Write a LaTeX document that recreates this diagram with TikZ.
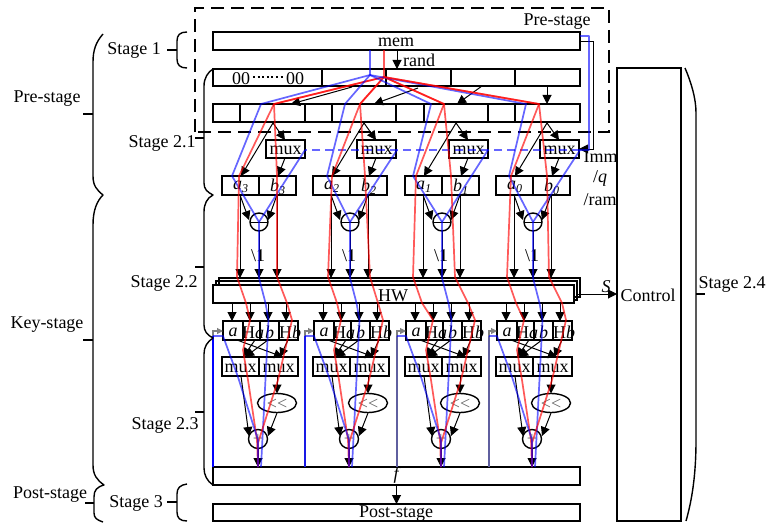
\documentclass[tikz,border=0pt]{standalone}
\usepackage{fontspec}
\setmainfont{Liberation Serif}
\usetikzlibrary{arrows.meta,calc,shapes.geometric}
\newcommand\mybox[6][]{%
  \node[boxn,#1,minimum width={(#4)-(#2)},minimum height={(#5)-(#3)},label={[lbl]center:#6}]
    (\curname) at ({((#2)+(#4))/2},{((#3)+(#5))/2}) {};}
\newcommand\curname{}
\newcommand\nbox[6]{\renewcommand\curname{#1}\mybox{#2}{#3}{#4}{#5}{#6}}
\newcommand\subi[2]{\textit{#1}\raisebox{-3.5pt}{\fontsize{12}{12}\selectfont\textit{#2}}}
\tikzset{
  x=1pt,y=-1pt,
  every node/.style={font=\fontsize{18}{20}\selectfont,inner sep=0pt,outer sep=0pt},
  boxn/.style={draw,line width=1.4pt,rectangle,inner sep=0pt,outer sep=0pt},
  lbl/.style={inner sep=0pt,outer sep=0pt,font=\fontsize{18}{20}\selectfont,yshift=-1.5pt},
  wire/.style={line width=1pt,-{Triangle[length=9pt,width=9pt]}},
  gwire/.style={line width=1.1pt,color=gray,-{Triangle[length=6pt,width=6pt]}},
  brc/.style={line width=1.4pt,line join=round},
  rd/.style={color=red,opacity=.65,line width=1.7pt,line join=round},
  bl/.style={color=blue,opacity=.6,line width=1.7pt,line join=round},
  txt/.style={font=\fontsize{18}{20}\selectfont,yshift=-1.5pt},
}
\begin{document}
\begin{tikzpicture}
\useasboundingbox (0,0) rectangle (767,524);
% pre-stage dashed frame
\draw[line width=1.4pt,dash pattern=on 13pt off 7pt] (195,132) -- (195,8) -- (609,8) -- (609,132) -- cycle;
\node[txt] (prelbl) at (557,20) {Pre-stage};
% memory
\nbox{mem}{213}{32}{580}{50}{}
\node[txt] (memlbl) at (396,41) {mem};
% row 2
\nbox{rA}{213}{69}{322}{86}{}
\nbox{rB}{322}{69}{386}{86}{}
\nbox{rC}{386}{69}{451}{86}{}
\nbox{rD}{451}{69}{515}{86}{}
\nbox{rE}{515}{69}{580}{86}{}
\node[txt] (zl) at (241,77) {00};
\node[txt] (zr) at (295,77) {00};
\coordinate (zla) at (253,77);
\coordinate (zrb) at (285,77);
\draw[line width=2pt,dash pattern=on 2pt off 2.6pt] (zla) -- (zrb);
% row 3
\nbox{sA}{213}{104}{240}{122}{}
\nbox{sB}{240}{104}{305}{122}{}
\nbox{sC}{305}{104}{332}{122}{}
\nbox{sD}{332}{104}{396}{122}{}
\nbox{sE}{396}{104}{424}{122}{}
\nbox{sF}{424}{104}{488}{122}{}
\nbox{sG}{488}{104}{515}{122}{}
\nbox{sH}{515}{104}{580}{122}{}
% rand
\coordinate (randS) at (397,50);
\coordinate (randE) at (397,69);
\draw[wire] (randS) -- (randE);
\node[txt] (randl) at (419,59) {rand};
% row2 -> row3 arrows
\coordinate (p1a) at (352,87); \coordinate (p1b) at (291,104);
\coordinate (p2a) at (418,88); \coordinate (p2b) at (374,104);
\coordinate (p3a) at (482,86); \coordinate (p3b) at (457,104);
\coordinate (p4a) at (547,86); \coordinate (p4b) at (547,104);
\draw[wire] (p1a) -- (p1b);
\draw[wire] (p2a) -- (p2b);
\draw[wire] (p3a) -- (p3b);
\draw[wire] (p4a) -- (p4b);
% HW stack
\nbox{hwC}{219}{278}{580}{297}{}
\nbox{hwB}{216}{281}{577}{300}{}
\node[boxn,fill=white,minimum width=361,minimum height=18] (hwA) at (393.5,294) {};
\node[txt] (hwl) at (393,294) {HW};
% f and post
\nbox{fbox}{213}{467}{580}{485}{}
\node[txt,font=\fontsize{18}{20}\selectfont\itshape] (fl) at (396,474) {f};
\nbox{post}{213}{504}{580}{521}{}
\node[txt] (postl) at (396,512) {Post-stage};
\draw[wire] (fbox.south) -- (post.north);
% control
\nbox{ctrl}{617}{68}{681}{521}{}
\node[txt] (ctrll) at (648,294) {Control};
\coordinate (sS) at (578,294);
\draw[wire] (sS) -- (ctrl.west |- sS);
\node[txt,font=\fontsize{18}{20}\selectfont\itshape] (sl) at (606,285) {S};
% groups
\foreach \i/\dx/\na in {1/0/3,2/91/2,3/183/1,4/274/0}{
\begin{scope}[xshift=\dx pt]
  \nbox{ux\i}{266}{140}{305}{158}{mux}
  \coordinate (ap\i) at (273,123);
  \coordinate (apL\i) at (241,176);
  \coordinate (mxT\i) at (285,140);
  \coordinate (mxB\i) at (285,158);
  \coordinate (bT\i) at (278,176);
  \draw[wire] (ap\i) -- (apL\i);
  \draw[wire] (ap\i) -- (mxT\i);
  \draw[wire] (mxB\i) -- (bT\i);
  \nbox{a\i}{222}{176}{259}{195}{\subi{a}{\na}}
  \nbox{b\i}{259}{176}{296}{195}{\subi{b}{\na}}
  \node[draw,circle,line width=1.4pt,minimum size=18pt] (cc\i) at (259,222) {};
  \draw[line width=1pt] (cc\i.west) -- (cc\i.east);
  \coordinate (aB\i) at (240,195);
  \coordinate (bB\i) at (277,195);
  \coordinate (ccL\i) at (249,220);
  \coordinate (ccR\i) at (268,220);
  \coordinate (hA\i) at (240,278);
  \coordinate (hB\i) at (259,278);
  \coordinate (hC\i) at (277,278);
  \draw[wire] (aB\i) -- (ccL\i);
  \draw[wire] (bB\i) -- (ccR\i);
  \draw[wire] (aB\i) -- (hA\i);
  \draw[wire] (cc\i.south) -- (hB\i);
  \draw[wire] (bB\i) -- (hC\i);
  \node[txt] (sh\i) at (258,254) {\textbackslash 1};
  % lower
  \nbox{la\i}{223}{321}{243}{340}{\textit{a}}
  \nbox{lha\i}{243}{321}{260}{340}{}
  \nbox{lb\i}{260}{321}{279}{340}{\textit{b}}
  \nbox{lhb\i}{279}{321}{298}{340}{}
  \node[txt] (lhat\i) at (253,331) {H\textit{a}};
  \node[txt] (lhbt\i) at (290,331) {H\textit{b}};
  \foreach \k/\xx in {1/232,2/250,3/268,4/286}{
    \coordinate (ht\i\k) at (\xx,303);
    \coordinate (hb\i\k) at (\xx,321);
    \draw[wire] (ht\i\k) -- (hb\i\k);
  }
  \nbox{m\i}{222}{357}{259}{376}{mux}
  \nbox{n\i}{259}{357}{298}{376}{mux}
  \coordinate (la1\i) at (237,340); \coordinate (la2\i) at (283,357);
  \coordinate (lb1\i) at (255,340); \coordinate (lb2\i) at (243,357);
  \coordinate (lc1\i) at (268,340); \coordinate (lc2\i) at (245,357);
  \coordinate (ld1\i) at (288,340); \coordinate (ld2\i) at (280,357);
  \draw[wire] (la1\i) -- (la2\i);
  \draw[wire] (lb1\i) -- (lb2\i);
  \draw[wire] (lc1\i) -- (lc2\i);
  \draw[wire] (ld1\i) -- (ld2\i);
  \node[draw,ellipse,line width=1.4pt,minimum width=39pt,minimum height=19pt] (el\i) at (277,403) {};
  \node[txt,color=black!60] (ell\i) at (277,403) {\textless{}\kern0pt\textless{}};
  \node[draw,circle,line width=1.4pt,minimum size=19pt] (pl\i) at (258,439) {};
  \node[color=black!55] (pll\i) at (258,439) {+};
  \coordinate (mL\i) at (241,376);
  \coordinate (pL\i) at (249,436);
  \coordinate (nB\i) at (277,376);
  \coordinate (elB\i) at (277,413);
  \coordinate (pR\i) at (268,436);
  \coordinate (fT\i) at (258,467);
  \draw[wire] (mL\i) -- (pL\i);
  \draw[wire] (nB\i) -- (el\i.north);
  \draw[wire] (elB\i) -- (pR\i);
  \draw[wire] (pl\i.south) -- (fT\i);
\end{scope}
}
% imm feed
\coordinate (mR1) at (580,41.5);
\coordinate (mR2) at (593,41.5);
\coordinate (mR3) at (593,149);
\draw[line width=1pt,-{Triangle[length=9pt,width=9pt]}] (mR1) -- (mR2) -- (mR3) -- (ux4.east |- mR3);
\node[txt] (imm) at (600.5,155) {Imm};
\node[txt] (ql) at (600,177) {/\textit{q}};
\node[txt] (raml) at (600,198) {/ram};
% coloured: stems and fan
\coordinate (bS) at (370,50); \coordinate (bF) at (370,75);
\coordinate (rS) at (384,50); \coordinate (rF) at (384,77);
\draw[bl] (bS) -- (bF);
\draw[rd] (rS) -- (rF);
\coordinate (bmA) at (580,36); \coordinate (bmB) at (589,36); \coordinate (bmC) at (589,150);
\coordinate (dashE) at (580,150); \coordinate (dashW) at (305,150);
\draw[bl] (bmA) -- (bmB) -- (bmC) -- (dashE);
\draw[bl,dash pattern=on 8pt off 5pt] (dashE) -- (dashW);
% per-group coloured
\foreach \i/\dx/\bt/\rt/\bb/\rl/\rll/\rrt/\rrb/\rrh/\mr/\fb/\vo in
 {1/0/261/274/232/239/237/277/277/287/305/213/1,
  2/91/345/360/327/332/328/365/370/378/397/305/.8,
  3/183/431/444/413/416/413/451/455/468/488/397/.25,
  4/274/526/539/509/511/507/547/549/562/580/489/.25}{
  \draw[bl] (bF) -- (\bt,104) -- (\bb,176) -- (cc\i.center) -- (hB\i) -- ++(6.5,25) -- ++(3,17) -- ++(-1,20) -- (261+\dx,467);
  \draw[bl] (\mr,150) -- (cc\i.center);
  \draw[rd] (rF) -- (\rt,104) -- (\rl,176) -- (\rll,277) -- (\rll+9,303) -- (250+\dx,320) -- (243+\dx,350) -- (248+\dx,380) -- (257+\dx,440) -- (fT\i);
  \draw[rd] (rF) -- (\rt,104) -- (\rrt,176) -- (\rrb,277) -- (\rrh,303) -- (292+\dx,320) -- (278+\dx,380) -- (258+\dx,443) -- (fT\i);
  \coordinate (gS\i) at (\fb,467);
  \coordinate (gM\i) at (\fb,331);
  \draw[gwire] (gS\i) -- (gM\i) -- (la\i.west |- gM\i);
  \coordinate (vS\i) at (\fb,467);
  \coordinate (vM\i) at (\fb,336);
  \coordinate (vN\i) at (la\i.west |- vM\i);
  \draw[color=blue,opacity=\vo,line width=1.6pt] (vS\i) -- (vM\i);
  \draw[bl] (vM\i) -- (vN\i) -- (238+\dx,377) -- (258+\dx,440) -- (fT\i);
}
% braces
\coordinate (tPre) at (103,34);
\draw[brc] (tPre) .. controls (96,42) and (93,50) .. (93,62) -- (93,176) .. controls (93,186) and (97,190) .. (103,195)
  .. controls (97,201) and (93,210) .. (93,225) -- (93,465) .. controls (93,475) and (97,480) .. (104,485)
  .. controls (97,487) and (94,490) .. (94,497) -- (94,513) .. controls (94,518) and (97,520) .. (103,522);
\coordinate (t1) at (83,114); \coordinate (t1b) at (93,114);
\coordinate (t2) at (83,340); \coordinate (t2b) at (93,340);
\coordinate (t3) at (85,503); \coordinate (t3b) at (94,503);
\draw[brc] (t1) -- (t1b); \draw[brc] (t2) -- (t2b); \draw[brc] (t3) -- (t3b);
\coordinate (st1) at (187,32);
\draw[brc] (st1) .. controls (180,32) and (177,35) .. (177,41) -- (177,59) .. controls (177,65) and (180,68) .. (187,68);
\coordinate (st3) at (187,484);
\draw[brc] (st3) .. controls (180,485) and (177,488) .. (177,494) -- (177,512) .. controls (177,518) and (180,521) .. (187,521);
\coordinate (q1) at (167,50); \coordinate (q1b) at (177,50);
\coordinate (q3) at (167,502); \coordinate (q3b) at (177,502);
\draw[brc] (q1) -- (q1b); \draw[brc] (q3) -- (q3b);
\draw[brc] (rA.north west) .. controls (208,72) and (204,78) .. (204,86) -- (204,183) .. controls (204,189) and (207,192) .. (213,195)
  .. controls (207,198) and (204,204) .. (204,212) -- (204,325) .. controls (204,331) and (207,335) .. (213,338)
  .. controls (207,342) and (204,347) .. (204,354) -- (204,468) .. controls (204,475) and (207,481) .. (fbox.south west);
\coordinate (w1) at (195,138); \coordinate (w1b) at (204,138);
\coordinate (w2) at (195,267); \coordinate (w2b) at (204,267);
\coordinate (w3) at (195,412); \coordinate (w3b) at (204,412);
\draw[brc] (w1) -- (w1b); \draw[brc] (w2) -- (w2b); \draw[brc] (w3) -- (w3b);
\coordinate (rg) at (685,68);
\draw[brc] (rg) .. controls (691,82) and (696,98) .. (696,113) -- (696,440) .. controls (696,475) and (692,500) .. (686,521);
\coordinate (y1) at (696,294); \coordinate (y2) at (705,294);
\draw[brc] (y1) -- (y2);
% labels
\node[txt] (L1) at (47,97) {Pre-stage};
\node[txt] (L2) at (47,323) {Key-stage};
\node[txt] (L3) at (50,493) {Post-stage};
\node[txt] (L4) at (134,49) {Stage 1};
\node[txt] (L5) at (162,142) {Stage 2.1};
\node[txt] (L6) at (164,282) {Stage 2.2};
\node[txt] (L7) at (165,424) {Stage 2.3};
\node[txt] (L8) at (136,502) {Stage 3};
\node[txt] (L9) at (732,283) {Stage 2.4};
\end{tikzpicture}
\end{document}
